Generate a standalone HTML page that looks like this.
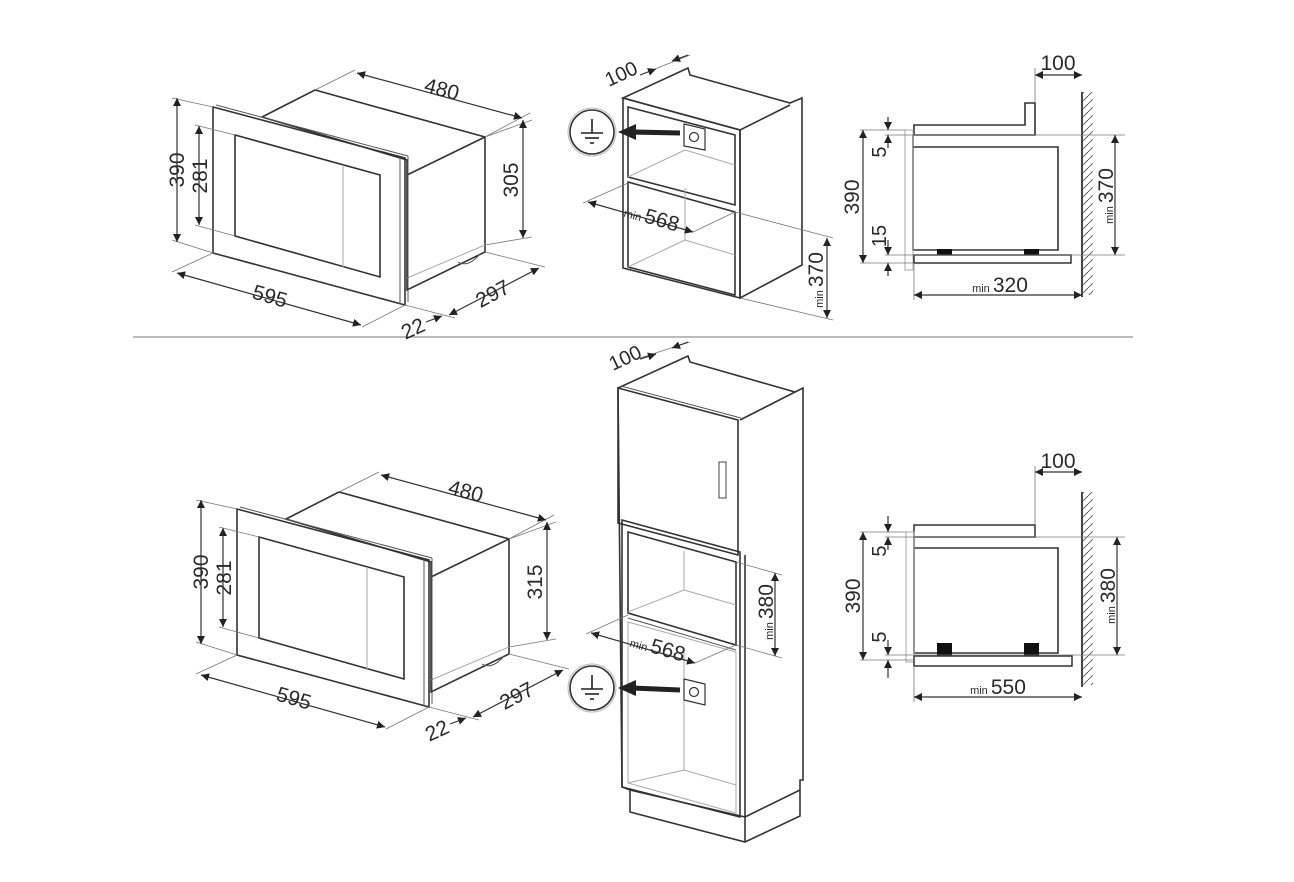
<!DOCTYPE html>
<html><head><meta charset="utf-8"><style>
html,body{margin:0;padding:0;background:#fff}
svg{display:block}
text{font-family:"Liberation Sans",sans-serif;fill:#2a2a2a}
.o{fill:none;stroke:#333;stroke-width:1.6}
.t{fill:none;stroke:#555;stroke-width:1}
.l{fill:none;stroke:#aaa;stroke-width:1}
.d{fill:none;stroke:#333;stroke-width:1.2;marker-start:url(#a);marker-end:url(#a)}
.e{fill:none;stroke:#777;stroke-width:0.8}
</style></head><body>
<svg width="1294" height="882" viewBox="0 0 1294 882" xmlns="http://www.w3.org/2000/svg">
<defs>
<marker id="a" viewBox="0 0 10 10" refX="10" refY="5" markerWidth="14" markerHeight="8" orient="auto-start-reverse" markerUnits="userSpaceOnUse"><path d="M0,0 L10,5 L0,10 z" fill="#222"/></marker>
<g id="mw">
  <polygon class="o" points="262,117 315,90 485,137 485,252 407,290 407,160" fill="#fff"/>
  <line class="o" x1="407" y1="175" x2="485" y2="137"/>
  <line class="l" x1="407" y1="278" x2="485" y2="245"/>
  <path class="t" d="M458,262 q10,6 22,-8"/>
  <polygon class="o" points="213,107 405,158 405,305 213,253" fill="#fff"/>
  <line class="t" x1="216" y1="105" x2="408" y2="156"/>
  <line class="t" x1="408" y1="156" x2="408" y2="302"/>
  <line class="t" x1="400" y1="157" x2="400" y2="304"/>
  <polygon class="o" points="235,135 380,175 380,277 235,236"/>
  <line class="l" x1="343" y1="165" x2="343" y2="267"/>
  <line class="e" x1="315" y1="90" x2="355" y2="70"/>
  <line class="e" x1="485" y1="137" x2="530" y2="113"/>
  <line class="d" x1="357" y1="73" x2="522" y2="118"/>
  <text transform="translate(440,96) rotate(15)" font-size="21" text-anchor="middle">480</text>
  <line class="e" x1="485" y1="137" x2="532" y2="120"/>
  <line class="e" x1="485" y1="245" x2="532" y2="237"/>
  <line class="d" x1="523" y1="120" x2="523" y2="238"/>
  <line class="e" x1="172" y1="98" x2="213" y2="107"/>
  <line class="e" x1="172" y1="240" x2="213" y2="253"/>
  <line class="d" x1="177" y1="98" x2="177" y2="242"/>
  <text transform="translate(184,170) rotate(-90)" font-size="21" text-anchor="middle">390</text>
  <line class="e" x1="195" y1="125" x2="235" y2="135"/>
  <line class="e" x1="195" y1="225" x2="235" y2="236"/>
  <line class="d" x1="199" y1="126" x2="199" y2="225"/>
  <text transform="translate(207,176) rotate(-90)" font-size="21" text-anchor="middle">281</text>
  <line class="e" x1="213" y1="253" x2="172" y2="272"/>
  <line class="e" x1="405" y1="305" x2="362" y2="327"/>
  <line class="d" x1="177" y1="273" x2="361" y2="325"/>
  <text transform="translate(268,303) rotate(16)" font-size="21" text-anchor="middle">595</text>
  <line class="e" x1="485" y1="252" x2="545" y2="267"/>
  <line class="e" x1="405" y1="305" x2="455" y2="318"/>
  <line class="d" x1="449" y1="315" x2="539" y2="268"/>
  <text transform="translate(496,300) rotate(-28)" font-size="21" text-anchor="middle">297</text>
  <line class="d" x1="426" y1="322" x2="442" y2="316" style="marker-start:none"/>
  <text transform="translate(416,335) rotate(-25)" font-size="21" text-anchor="middle">22</text>
</g>
<g id="gnd">
  <circle cx="0" cy="0" r="22" fill="#fff" stroke="#333" stroke-width="1.6"/>
  <circle cx="0" cy="0" r="24" fill="none" stroke="#bbb" stroke-width="1"/>
  <line x1="0" y1="-13" x2="0" y2="1" stroke="#222" stroke-width="1.6"/>
  <line x1="-11" y1="1" x2="11" y2="1" stroke="#222" stroke-width="1.6"/>
  <line x1="-7" y1="6" x2="7" y2="6" stroke="#222" stroke-width="1.6"/>
  <line x1="-2" y1="11" x2="2" y2="11" stroke="#222" stroke-width="1.6"/>
</g>
<pattern id="h" width="8" height="8" patternUnits="userSpaceOnUse"><line x1="0" y1="8" x2="8" y2="0" stroke="#555" stroke-width="0.9"/></pattern>
</defs>

<line x1="133" y1="337" x2="1133" y2="337" stroke="#777" stroke-width="1"/>

<use href="#mw"/>
<text transform="translate(518,180) rotate(-90)" font-size="21" text-anchor="middle">305</text>
<g transform="translate(24,402)"><use href="#mw"/></g>
<text transform="translate(542,582) rotate(-90)" font-size="21" text-anchor="middle">315</text>

<!-- top middle cabinet -->
<polygon class="o" points="623,98 688,68 690,75 790,103 802,98 802,265 740,298 740,130" fill="#fff"/>
<line class="o" x1="740" y1="130" x2="790" y2="105"/>
<polygon class="o" points="623,98 740,130 740,298 623,268" fill="#fff"/>
<polygon class="o" points="628,107 735,135 735,205 628,177"/>
<polygon class="o" points="628,182 735,212 735,295 628,267"/>
<line class="l" x1="628" y1="177" x2="685" y2="150"/><line class="l" x1="685" y1="150" x2="735" y2="165"/>
<line class="l" x1="685" y1="188" x2="685" y2="240"/>
<line class="l" x1="628" y1="267" x2="685" y2="240"/><line class="l" x1="685" y1="240" x2="735" y2="255"/>
<polygon points="684,124 705,129 705,150 684,146" fill="#fff" stroke="#333" stroke-width="1.2"/>
<circle cx="694" cy="137" r="4.5" fill="none" stroke="#333" stroke-width="1.2"/>
<g transform="translate(592,132)"><use href="#gnd"/></g>
<line x1="680" y1="133" x2="632" y2="132" stroke="#222" stroke-width="5"/>
<polygon points="618,132 636,124 636,140" fill="#222"/>
<line class="e" x1="645" y1="73" x2="690" y2="55"/>
<line class="d" x1="640" y1="75" x2="656" y2="69" style="marker-start:none"/>
<line class="d" x1="688" y1="55" x2="672" y2="61" style="marker-start:none"/>
<text transform="translate(624,80) rotate(-25)" font-size="20" text-anchor="middle">100</text>
<line class="e" x1="583" y1="203" x2="628" y2="183"/>
<line class="e" x1="693" y1="232" x2="735" y2="212"/>
<line class="d" x1="588" y1="202" x2="693" y2="232"/>
<text transform="translate(650,224) rotate(16)" font-size="21" text-anchor="middle"><tspan font-size="11">min </tspan>568</text>
<line class="e" x1="735" y1="212" x2="833" y2="238"/>
<line class="e" x1="740" y1="298" x2="833" y2="320"/>
<line class="d" x1="827" y1="238" x2="827" y2="318"/>
<text transform="translate(823,280) rotate(-90)" font-size="21" text-anchor="middle"><tspan font-size="11">min </tspan>370</text>

<!-- bottom middle tall cabinet -->
<polygon class="o" points="618,388 688,356 690,362 795,392 803,388 803,780 800,780 800,816 745,842 630,812 630,790 622,787" fill="#fff"/>
<line class="o" x1="740" y1="420" x2="795" y2="392"/>
<polygon class="o" points="622,520 740,552 740,817 622,787" fill="#fff"/>
<line class="o" x1="630" y1="790" x2="745" y2="817"/>
<line class="o" x1="745" y1="817" x2="745" y2="842"/>
<line class="o" x1="745" y1="817" x2="800" y2="790"/>
<line class="o" x1="745" y1="555" x2="745" y2="817"/>
<polygon class="o" points="618,388 738,420 738,555 618,523" fill="#fff"/>
<line class="t" x1="621" y1="386" x2="741" y2="418"/>
<rect x="719" y="462" width="7" height="36" fill="#fff" stroke="#444" stroke-width="1"/>
<polygon class="o" points="628,532 736,562 736,645 628,613"/>
<line class="t" x1="628" y1="618" x2="736" y2="650"/>
<line class="l" x1="684" y1="551" x2="684" y2="590"/><line class="l" x1="628" y1="612" x2="684" y2="590"/><line class="l" x1="684" y1="590" x2="736" y2="605"/>
<polygon class="l" points="628,622 736,652 736,813 628,783"/>
<line class="l" x1="684" y1="648" x2="684" y2="770"/><line class="l" x1="628" y1="783" x2="684" y2="770"/><line class="l" x1="684" y1="770" x2="736" y2="785"/>
<polygon points="684,679 705,684 705,705 684,700" fill="#fff" stroke="#333" stroke-width="1.2"/>
<circle cx="694" cy="692" r="4.5" fill="none" stroke="#333" stroke-width="1.2"/>
<g transform="translate(592,688)"><use href="#gnd"/></g>
<line x1="680" y1="690" x2="632" y2="688" stroke="#222" stroke-width="5"/>
<polygon points="618,688 636,680 636,696" fill="#222"/>
<line class="e" x1="640" y1="358" x2="690" y2="342"/>
<line class="d" x1="640" y1="359" x2="656" y2="354" style="marker-start:none"/>
<line class="d" x1="688" y1="342" x2="672" y2="348" style="marker-start:none"/>
<text transform="translate(628,364) rotate(-25)" font-size="20" text-anchor="middle">100</text>
<line class="e" x1="586" y1="634" x2="628" y2="615"/>
<line class="e" x1="695" y1="663" x2="736" y2="645"/>
<line class="d" x1="591" y1="633" x2="695" y2="663"/>
<text transform="translate(656,654) rotate(16)" font-size="21" text-anchor="middle"><tspan font-size="11">min </tspan>568</text>
<line class="e" x1="736" y1="562" x2="782" y2="575"/>
<line class="e" x1="736" y1="645" x2="782" y2="658"/>
<line class="d" x1="775" y1="573" x2="775" y2="656"/>
<text transform="translate(773,612) rotate(-90)" font-size="21" text-anchor="middle"><tspan font-size="11">min </tspan>380</text>

<!-- top right side view -->
<rect x="1083" y="92" width="10" height="203" fill="url(#h)"/>
<line x1="1082" y1="92" x2="1082" y2="297" stroke="#333" stroke-width="1.8"/>
<polygon class="o" points="914,125 1025,125 1025,103 1035,103 1035,135 914,135" fill="#fff"/>
<polyline class="o" points="913,135 913,250 1058,250 1058,147 913,147"/>
<rect x="905" y="130" width="8" height="140" class="l"/>
<rect x="914" y="255" width="157" height="8" fill="#fff" stroke="#333" stroke-width="1.5"/>
<rect x="937" y="249" width="15" height="6" fill="#111"/><rect x="1024" y="249" width="15" height="6" fill="#111"/>
<line class="e" x1="1035" y1="103" x2="1035" y2="68"/>
<line class="d" x1="1035" y1="75" x2="1082" y2="75"/>
<text x="1058" y="70" font-size="21" text-anchor="middle">100</text>
<line class="e" x1="860" y1="130" x2="905" y2="130"/>
<line class="e" x1="860" y1="263" x2="914" y2="263"/>
<line class="e" x1="885" y1="135" x2="1125" y2="135"/>
<line class="e" x1="885" y1="255" x2="1125" y2="255"/>
<line class="d" x1="863" y1="130" x2="863" y2="263"/>
<text transform="translate(859,197) rotate(-90)" font-size="21" text-anchor="middle">390</text>
<line class="d" x1="888" y1="117" x2="888" y2="130" style="marker-start:none"/>
<line class="d" x1="888" y1="148" x2="888" y2="135" style="marker-start:none"/>
<text transform="translate(886,152) rotate(-90)" font-size="20" text-anchor="middle">5</text>
<line class="d" x1="888" y1="240" x2="888" y2="255" style="marker-start:none"/>
<line class="d" x1="888" y1="276" x2="888" y2="263" style="marker-start:none"/>
<text transform="translate(886,236) rotate(-90)" font-size="20" text-anchor="middle">15</text>
<line class="d" x1="1115" y1="135" x2="1115" y2="255"/>
<text transform="translate(1113,196) rotate(-90)" font-size="21" text-anchor="middle"><tspan font-size="11">min </tspan>370</text>
<line class="e" x1="914" y1="263" x2="914" y2="300"/>
<line class="d" x1="914" y1="295" x2="1082" y2="295"/>
<text x="1000" y="292" font-size="21" text-anchor="middle"><tspan font-size="11">min </tspan>320</text>

<!-- bottom right side view -->
<rect x="1083" y="492" width="10" height="193" fill="url(#h)"/>
<line x1="1082" y1="492" x2="1082" y2="687" stroke="#333" stroke-width="1.8"/>
<rect x="914" y="525" width="121" height="12" fill="#fff" stroke="#333" stroke-width="1.5"/>
<polyline class="o" points="914,537 914,653 1058,653 1058,548 914,548"/>
<rect x="906" y="532" width="8" height="130" class="l"/>
<rect x="914" y="656" width="158" height="10" fill="#fff" stroke="#333" stroke-width="1.5"/>
<rect x="937" y="643" width="15" height="13" fill="#111"/><rect x="1024" y="643" width="15" height="13" fill="#111"/>
<line class="e" x1="1035" y1="525" x2="1035" y2="466"/>
<line class="d" x1="1035" y1="472" x2="1082" y2="472"/>
<text x="1058" y="468" font-size="21" text-anchor="middle">100</text>
<line class="e" x1="860" y1="532" x2="906" y2="532"/>
<line class="e" x1="860" y1="660" x2="914" y2="660"/>
<line class="e" x1="885" y1="537" x2="1125" y2="537"/>
<line class="e" x1="885" y1="655" x2="1125" y2="655"/>
<line class="d" x1="863" y1="532" x2="863" y2="660"/>
<text transform="translate(860,596) rotate(-90)" font-size="21" text-anchor="middle">390</text>
<line class="d" x1="888" y1="516" x2="888" y2="532" style="marker-start:none"/>
<line class="d" x1="888" y1="550" x2="888" y2="537" style="marker-start:none"/>
<text transform="translate(886,551) rotate(-90)" font-size="20" text-anchor="middle">5</text>
<line class="d" x1="888" y1="640" x2="888" y2="655" style="marker-start:none"/>
<line class="d" x1="888" y1="678" x2="888" y2="660" style="marker-start:none"/>
<text transform="translate(886,637) rotate(-90)" font-size="20" text-anchor="middle">5</text>
<line class="d" x1="1117" y1="537" x2="1117" y2="655"/>
<text transform="translate(1115,596) rotate(-90)" font-size="21" text-anchor="middle"><tspan font-size="11">min </tspan>380</text>
<line class="e" x1="914" y1="666" x2="914" y2="702"/>
<line class="d" x1="914" y1="697" x2="1082" y2="697"/>
<text x="998" y="694" font-size="21" text-anchor="middle"><tspan font-size="11">min </tspan>550</text>
</svg>
</body></html>
